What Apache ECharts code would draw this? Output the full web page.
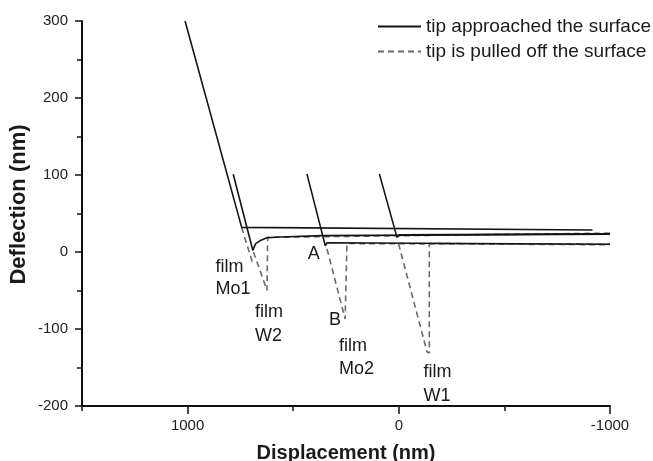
<!DOCTYPE html>
<html>
<head>
<meta charset="utf-8">
<script src="https://cdn.jsdelivr.net/npm/echarts@6/dist/echarts.min.js"></script>
<style>html,body{margin:0;padding:0;background:#fff}#c{width:653px;height:461px}</style>
</head>
<body>
<div id="c"></div>
<script>
// ---- data (Displacement nm, Deflection nm) ----
const approachMo1 = [[1012,300],[744,32],[-917,28.5]];
const approachW2  = [[784,101],[691,2],[679,10.5],[655,15],[625,18.5],[562,19.5],[358,21.3],[-1000,23.2]];
const approachMo2 = [[435,101.5],[348,8],[340,12],[-1000,10]];
const approachW1  = [[92,101.5],[8.5,19],[-5,22.5],[-1000,23.6]];

const retractMo1 = [[744,32],[694,-13]];
const retractW2  = [[688,0],[624,-50],[621,-50],[621,19],[-1000,24.5]];
const retractMo2 = [[340,4],[254,-87],[245.5,-87],[245.5,11],[-1000,9.5]];
const retractW1  = [[1,10.6],[-134,-130],[-144.5,-131],[-144.5,11],[-1000,10]];

const xMajorTicks = [1000, 0, -1000];
const yTicks = [-200, -100, 0, 100, 200, 300];

const legendNames = ['tip approached the surface', 'tip is pulled off the surface'];

// annotations: [text, displacement, deflection] (left edge, vertical middle)
const annotations = [
  ['A', 433, -2.5],
  ['B', 333, -89],
  ['film', 870, -20],
  ['Mo1', 870, -47.5],
  ['film', 683, -78.5],
  ['W2', 683, -109],
  ['film', 285, -122],
  ['Mo2', 285, -152.5],
  ['film', -115, -156.5],
  ['W1', -115, -187]
];

const FONT = '"Liberation Sans", Arial, Helvetica, sans-serif';
const chart = echarts.init(document.getElementById('c'), null, {renderer: 'canvas'});

function solid(d) {
  return {type:'line', name: legendNames[0], data: d, symbol:'none', silent:true,
    lineStyle:{color:'#151515', width:1.6, type:'solid'}, itemStyle:{color:'#151515'}, z:3};
}
function dashed(d) {
  return {type:'line', name: legendNames[1], data: d, symbol:'none', silent:true,
    lineStyle:{color:'#6a6a6a', width:1.6, type:[6,4]}, itemStyle:{color:'#6a6a6a'}, z:2};
}

const commonX = {type:'value', min:-1000, max:1500, inverse:true, gridIndex:0, position:'bottom'};
const plainNum = v => String(v);

chart.setOption({
  animation:false,
  backgroundColor:'#fff',
  textStyle:{fontFamily: FONT},
  grid:{left:82, right:43, top:21, bottom:55, containLabel:false, outerBoundsMode:'none'},
  legend:{
    data: legendNames, orient:'vertical', left:377, top:17, padding:0,
    itemWidth:43, itemHeight:14, itemGap:6,
    itemStyle:{color:'rgba(0,0,0,0)', borderWidth:0, opacity:0},
    textStyle:{fontSize:19, color:'#1a1a1a', fontFamily: FONT, lineHeight:19}
  },
  xAxis:[
    Object.assign({}, commonX, {
      interval:500,
      name:'Displacement (nm)', nameLocation:'middle', nameGap:37, nameMoveOverlap:false,
      nameTextStyle:{fontSize:20, fontWeight:'bold', color:'#1a1a1a', fontFamily: FONT},
      axisLine:{show:true, onZero:false, lineStyle:{color:'#111', width:2}},
      axisTick:{show:true, inside:false, length:5, lineStyle:{color:'#111', width:1.5}},
      axisLabel:{show:true, customValues: xMajorTicks, formatter: plainNum, margin:12, fontSize:15, color:'#222', fontFamily: FONT},
      splitLine:{show:false}
    }),
    Object.assign({}, commonX, {
      axisLine:{show:false, onZero:false},
      axisTick:{show:true, inside:false, length:8, customValues: xMajorTicks, lineStyle:{color:'#111', width:1.5}},
      axisLabel:{show:false},
      splitLine:{show:false}
    })
  ],
  yAxis:{
    type:'value', min:-200, max:300, interval:100,
    name:'Deflection (nm)', nameLocation:'middle', nameGap:52, nameMoveOverlap:false,
    nameTextStyle:{fontSize:22, fontWeight:'bold', color:'#1a1a1a', fontFamily: FONT, padding:[0,0,0,18]},
    axisLine:{show:true, onZero:false, lineStyle:{color:'#111', width:2}},
    axisTick:{show:true, inside:false, length:7, customValues: yTicks, lineStyle:{color:'#111', width:1.5}},
    minorTick:{show:true, splitNumber:2, length:5, lineStyle:{color:'#111', width:1.5}},
    axisLabel:{margin:14, fontSize:15, color:'#222', fontFamily: FONT, formatter: plainNum},
    splitLine:{show:false}
  },
  series:[
    solid(approachMo1), solid(approachW2), solid(approachMo2), solid(approachW1),
    dashed(retractMo1), dashed(retractW2), dashed(retractMo2), dashed(retractW1),
    {
      type:'scatter', name:'annotations', silent:true, symbolSize:1,
      itemStyle:{color:'rgba(0,0,0,0)'},
      data: annotations.map(a => ({name:a[0], value:[a[1], a[2]]})),
      label:{show:true, position:'right', distance:0, formatter: p => p.name,
        fontSize:18, color:'#1a1a1a', fontFamily: FONT, opacity:1},
      z:4
    }
  ]
});
</script>
</body>
</html>
